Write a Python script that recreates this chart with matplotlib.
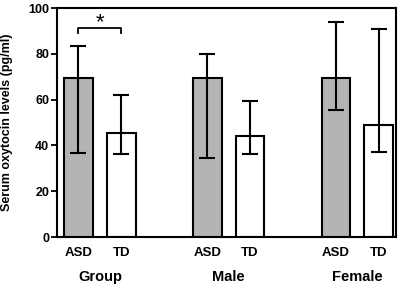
import matplotlib
matplotlib.use('Agg')
import matplotlib.pyplot as plt

# values
groups = ['Group', 'Male', 'Female']
bar_labels = ['ASD', 'TD', 'ASD', 'TD', 'ASD', 'TD']
means = [69.5, 45.5, 69.5, 44.2, 69.5, 49.0]
upper = [83.5, 62.0, 79.8, 59.4, 93.9, 91.0]
lower = [36.7, 36.4, 34.5, 36.4, 55.6, 37.1]
colors = ['#b4b4b4', 'white', '#b4b4b4', 'white', '#b4b4b4', 'white']

plt.rcParams['font.family'] = ['Liberation Sans', 'DejaVu Sans']
plt.rcParams['font.weight'] = 'bold'

x = [0, 1, 3, 4, 6, 7]
fig = plt.figure(figsize=(4.03, 2.88), dpi=100)
ax = fig.add_axes([0.1414, 0.177, 0.8412, 0.795])

err = [[m - l for m, l in zip(means, lower)], [u - m for m, u in zip(means, upper)]]
ax.bar(x, means, width=0.67, color=colors, edgecolor='black', linewidth=1.5, zorder=2)
ax.errorbar(x, means, yerr=err, fmt='none', ecolor='black', elinewidth=1.5,
            capsize=5.5, capthick=1.5, zorder=3)

# significance bracket
ax.plot([0, 0, 1, 1], [89.2, 91.3, 91.3, 89.2], color='black', lw=1.3, clip_on=False)
ax.text(0.5, 93.5, '*', ha='center', va='center', fontsize=16, fontweight='normal')

ax.set_xlim(-0.5, 7.4)
ax.set_ylim(0, 100)
ax.set_yticks([0, 20, 40, 60, 80, 100])
ax.set_xticks(x)
ax.set_xticklabels(bar_labels, fontsize=9.5, fontweight='bold')
ax.tick_params(axis='x', length=0, pad=7)
ax.tick_params(axis='y', length=4, width=1.3, labelsize=9, pad=1.5)
for lab in ax.get_yticklabels():
    lab.set_fontweight('bold')
for s in ax.spines.values():
    s.set_linewidth(1.5)

for i, g in enumerate(groups):
    ax.text(x[2 * i] + 0.5, -0.175, g, transform=ax.get_xaxis_transform(),
            ha='center', va='center', fontsize=10.5, fontweight='bold')

ax.set_ylabel('Serum oxytocin levels (pg/ml)', fontsize=9, fontweight='bold')
ax.yaxis.set_label_coords(-0.13, 0.5)

fig.savefig('out.png', dpi=100)
